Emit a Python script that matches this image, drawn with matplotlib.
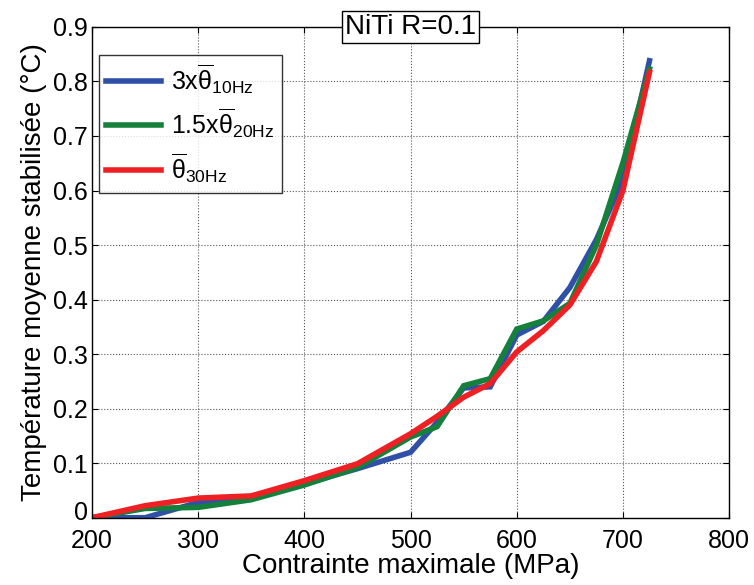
import matplotlib
matplotlib.use("Agg")
import matplotlib.pyplot as plt
import matplotlib.transforms as mtransforms

# Stress levels (MPa)
stress = [200, 250, 300, 350, 400, 450, 500, 525, 550, 575, 600, 625, 650, 675, 700, 725]

# Stabilised mean temperature (degC)
temp_10hz = [0.0, 0.0, 0.028, 0.037, 0.062, 0.090, 0.120, 0.175, 0.238, 0.240, 0.335, 0.360, 0.422, 0.510, 0.620, 0.838]
temp_20hz = [0.0, 0.017, 0.019, 0.033, 0.060, 0.092, 0.148, 0.167, 0.242, 0.255, 0.346, 0.361, 0.393, 0.500, 0.651, 0.823]
temp_30hz = [0.0, 0.022, 0.036, 0.040, 0.068, 0.099, 0.154, 0.186, 0.221, 0.246, 0.304, 0.343, 0.390, 0.470, 0.600, 0.817]

labels = [r"3x$\overline{\theta}_{\mathrm{10Hz}}$",
          r"1.5x$\overline{\theta}_{\mathrm{20Hz}}$",
          r"$\overline{\theta}_{\mathrm{30Hz}}$"]
colors = ["#3050a8", "#15803c", "#ee2024"]

xticks = [200, 300, 400, 500, 600, 700, 800]
yticks = [0, 0.1, 0.2, 0.3, 0.4, 0.5, 0.6, 0.7, 0.8, 0.9]

plt.rcParams["font.family"] = ["Liberation Sans", "DejaVu Sans"]
plt.rcParams["mathtext.fontset"] = "custom"
plt.rcParams["mathtext.rm"] = "Liberation Sans"
plt.rcParams["mathtext.it"] = "Liberation Sans"
plt.rcParams["mathtext.bf"] = "Liberation Sans:bold"

fig = plt.figure(figsize=(7.54, 5.85), dpi=100)
ax = fig.add_axes([0.122, 0.115, 0.845, 0.839])

for y, lab, c in zip([temp_10hz, temp_20hz, temp_30hz], labels, colors):
    ax.plot(stress, y, color=c, linewidth=4, label=lab, solid_joinstyle="miter")

ax.set_xlim(200, 800)
ax.set_ylim(0, 0.9)
ax.set_xticks(xticks)
ax.set_yticks(yticks)
ax.set_xticklabels([str(v) for v in xticks])
ax.set_yticklabels(["0" if v == 0 else f"{v:.1f}" for v in yticks])
ax.tick_params(direction="in", labelsize=18, length=4, width=0.8,
               top=True, right=True)
ax.tick_params(axis="x", pad=8)
ax.tick_params(axis="y", pad=3)
ax.grid(True, color="#555555", linestyle=":", linewidth=0.8)
for s in ax.spines.values():
    s.set_linewidth(1.0)

# nudge the "0" y label up a little so it clears the "200" below it
zero_lab = ax.get_yticklabels()[0]
zero_lab.set_transform(zero_lab.get_transform() +
                       mtransforms.ScaledTranslation(0, 5 / 72, fig.dpi_scale_trans))

ax.set_xlabel("Contrainte maximale (MPa)", fontsize=20, labelpad=0)
ax.set_ylabel("Température moyenne stabilisée (°C)", fontsize=20, labelpad=4)

ax.text(0.5, 1.0, "NiTi R=0.1", transform=ax.transAxes, ha="center", va="center",
        fontsize=20, bbox=dict(boxstyle="square,pad=0.12", fc="white", ec="black", lw=1))

leg = ax.legend(loc="upper left", bbox_to_anchor=(0.011, 0.943), borderaxespad=0,
                fontsize=18, frameon=True, fancybox=False, edgecolor="black",
                handlelength=2.2, handletextpad=0.4, borderpad=0.3, labelspacing=0.45)
leg.get_frame().set_linewidth(1.0)

fig.savefig("out.png", dpi=100)
